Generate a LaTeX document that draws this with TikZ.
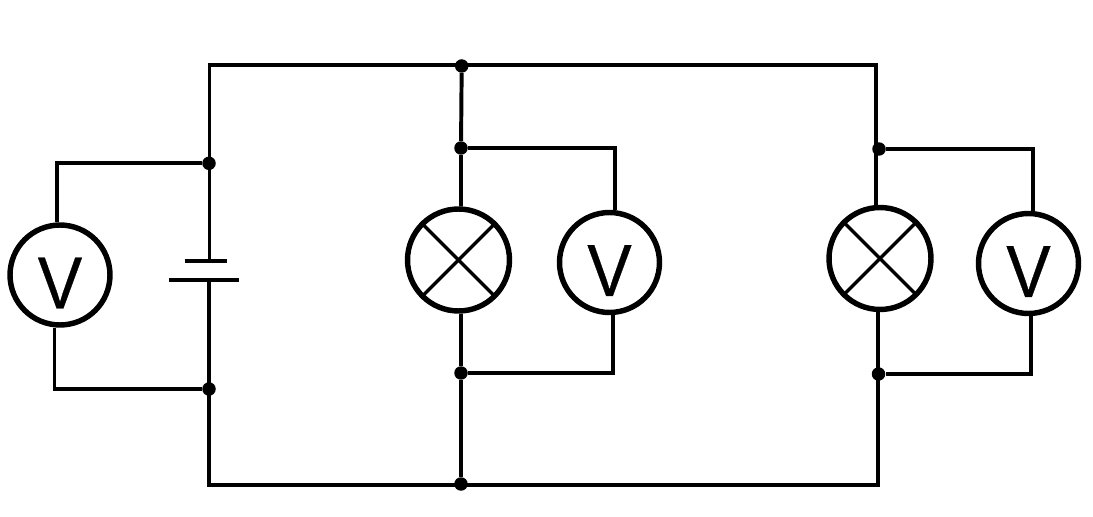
\documentclass[tikz,border=0pt]{standalone}
\usepackage{fontspec}
\newfontfamily\voltfont[FakeBold=0.5]{Liberation Sans}
\usepackage{tikz}
\usetikzlibrary{positioning}
\newcommand{\voltmark}{\raisebox{-0.67cm}[0pt][0pt]{\scalebox{0.9}[1]{V}}}
\tikzset{
	wire/.style={line width=2.25pt},
	crossline/.style={line width=1.95pt},
	junction/.style={circle, fill=black, inner sep=0pt, minimum size=0.27cm},
	meter/.style={circle, draw, line width=3.1pt, inner sep=0pt, minimum size=2cm, font=\voltfont\fontsize{42}{42}\selectfont},
	lamp/.style={circle, draw, line width=3.1pt, inner sep=0pt, minimum size=2.04cm},
}
\begin{document}
\begin{tikzpicture}[x=0.02cm, y=-0.02cm]
		\useasboundingbox (0,0) rectangle (1093,517);
		
		\node[meter] (v1) at (60,275) {\voltmark};
		\node[lamp] (l1) at (458.5,260) {};
		\node[meter] (v2) at (609.5,262.5) {\voltmark};
		\node[lamp] (l2) at (880,258.5) {};
		\node[meter] (v3) at (1028.5,263.5) {\voltmark};
		
		\node[junction] (t1) at (461.7,66) {};
		\node[junction] (t2) at (461,148) {};
		\node[junction] (t3) at (879,149) {};
		\node[junction] (b1) at (461,484) {};
		\node[junction] (b2) at (461,373) {};
		\node[junction] (b3) at (878.5,374) {};
		\node[junction] (s1) at (209,163.3) {};
		\node[junction] (s2) at (209,389) {};
		
		\coordinate (tl) at (209.5,65);
		\coordinate (tr) at (876,65);
		\coordinate (bl) at (209,485);
		\coordinate (br) at (878,485);
		
		% battery
		\node[minimum width=1.39cm, minimum height=0pt, inner sep=0pt] (plong) at (204,280) {};
		\node[minimum width=0.84cm, minimum height=0pt, inner sep=0pt] (pshort) at (206,260.7) {};
		\draw[wire] (plong.west) -- (plong.east);
		\draw[wire] (pshort.west) -- (pshort.east);
		
		% outer loop
		\draw[wire] (pshort.center -| tl) -- (tl) -- (tr) -- (tr |- l2.north);
		\draw[wire] (plong.center -| bl) -- (bl) -- (br) -- (br |- l2.south);
		
		% left meter
		\draw[wire] (s1) -| (v1.north -| 56.7,0);
		\draw[wire] (s2) -| (v1.south -| 54.5,0);
		
		% first lamp
		\draw[wire] (t1) -- (t2) -- (l1.north -| t2);
		\draw[wire] (b1) -- (b2) -- (l1.south -| b2);
		\draw[wire] (t2) -| (v2.north -| 615,0);
		\draw[wire] (b2) -| (v2.south -| 612.7,0);
		\draw[crossline] (l1.45) -- (l1.225);
		\draw[crossline, shorten >=0.06cm] (l1.135) -- (l1.-45);
		
		% second lamp
		\draw[wire] (t3) -| (v3.north -| 1033,0);
		\draw[wire] (b3) -| (v3.south -| 1030.7,0);
		\draw[crossline] (l2.45) -- (l2.225);
		\draw[crossline, shorten >=0.06cm] (l2.135) -- (l2.-45);
	\end{tikzpicture}
\end{document}
